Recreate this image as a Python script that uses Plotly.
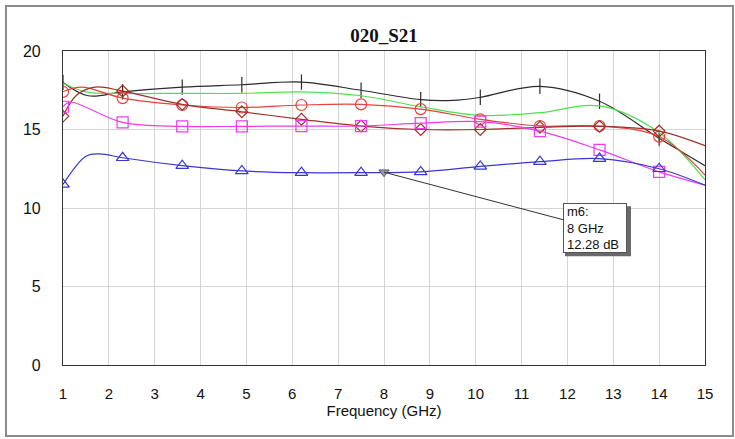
import plotly.graph_objects as go

# ---- data ----
marker_freqs = [1, 2.3, 3.6, 4.9, 6.2, 7.5, 8.8, 10.1, 11.4, 12.7, 14.0]

black_x = [1, 1.55, 2.3, 3.6, 4.9, 6.2, 7.5, 8.8, 9.5, 10.1, 11.4, 12.7, 14.0, 15]
black_y = [18.0, 17.15, 17.4, 17.7, 17.85, 18.02, 17.5, 16.9, 16.85, 17.05, 17.75, 16.8, 14.45, 12.7]

green_x = [1, 1.5, 2.3, 3.6, 4.9, 6.2, 7.5, 8.8, 10.1, 11.4, 12.7, 14.0, 15]
green_y = [17.95, 17.4, 17.3, 17.3, 17.3, 17.4, 17.15, 16.45, 15.9, 16.07, 16.5, 14.8, 11.8]

red_x = [1, 1.4, 2.3, 3.6, 4.9, 6.2, 7.5, 8.8, 10.1, 11.4, 12.7, 14.0, 15]
red_y = [17.4, 17.7, 17.0, 16.56, 16.4, 16.56, 16.6, 16.3, 15.65, 15.22, 15.22, 14.55, 12.1]

brown_x = [1, 1.3, 1.7, 2.3, 3.6, 4.9, 6.2, 7.5, 8.8, 10.1, 11.4, 12.7, 14.0, 15]
brown_y = [15.85, 17.2, 17.7, 17.45, 16.6, 16.13, 15.65, 15.22, 15.0, 15.0, 15.14, 15.2, 14.9, 13.97]

magenta_x = [1, 1.15, 2.3, 3.6, 4.9, 6.2, 7.5, 8.8, 10.1, 11.4, 12.7, 14.0, 15]
magenta_y = [16.45, 16.75, 15.45, 15.2, 15.2, 15.22, 15.22, 15.4, 15.5, 14.9, 13.7, 12.3, 11.46]

blue_x = [1, 1.5, 1.8, 2.3, 3.6, 4.9, 6.2, 7.5, 8.8, 10.1, 11.4, 12.7, 14.0, 15]
blue_y = [11.5, 13.3, 13.45, 13.2, 12.7, 12.36, 12.25, 12.25, 12.3, 12.65, 12.95, 13.15, 12.5, 11.45]

m6_freq = 8
m6_val = 12.28
m6_text = "m6:<br>8 GHz<br>12.28 dB"

title_text = "<b>020_S21</b>"
x_title = "Frequency (GHz)"
x_ticks = list(range(1, 16))
y_ticks = [0, 5, 10, 15, 20]

series = [
    (black_x, black_y, "#2b2b2b", "line-ns-open", 11),
    (green_x, green_y, "#4fe04f", None, 0),
    (red_x, red_y, "#e8403a", "circle-open", 11),
    (brown_x, brown_y, "#a0302a", "diamond-open", 9),
    (magenta_x, magenta_y, "#ee3cee", "square-open", 11),
    (blue_x, blue_y, "#3838d0", "triangle-up-open", 11),
]

fig = go.Figure()
for xs, ys, col, sym, sz in series:
    fig.add_trace(go.Scatter(x=xs, y=ys, mode="lines",
                             line=dict(color=col, width=1.2, shape="spline", smoothing=1.0),
                             showlegend=False, hoverinfo="skip"))
    if sym:
        mx = [x for x in xs if x in marker_freqs]
        my = [y for x, y in zip(xs, ys) if x in marker_freqs]
        fig.add_trace(go.Scatter(x=mx, y=my, mode="markers",
                                 marker=dict(symbol=sym, size=sz, color=col,
                                             line=dict(color=col, width=1.2)),
                                 showlegend=False, hoverinfo="skip"))

fig.add_trace(go.Scatter(x=[m6_freq], y=[m6_val], mode="markers",
                         marker=dict(symbol="triangle-down", size=9, color="#9a9aa8",
                                     line=dict(color="#555566", width=1)),
                         showlegend=False, hoverinfo="skip"))

box_ax, box_ay = 211, 56
box_w, box_h = 66, 50
# shadow of the marker box (pixel-sized shape anchored on the marker point)
fig.add_shape(type="rect", xref="x", yref="y",
              xsizemode="pixel", ysizemode="pixel",
              xanchor=m6_freq, yanchor=m6_val,
              x0=box_ax - box_w / 2 + 3, x1=box_ax + box_w / 2 + 3,
              y0=-box_ay - box_h / 2 - 3, y1=-box_ay + box_h / 2 - 3,
              fillcolor="#6a6a6a", line=dict(width=0), layer="above")
fig.add_annotation(x=m6_freq, y=m6_val, text=m6_text, showarrow=True,
                   ax=box_ax, ay=box_ay, arrowhead=0, arrowwidth=1, arrowcolor="#333333",
                   align="left", width=box_w - 10, height=box_h - 8,
                   font=dict(family="Liberation Sans, Arial", size=13, color="#111111"),
                   bgcolor="white", bordercolor="#555555", borderwidth=1, borderpad=3)

# outer frame of the picture
fig.add_shape(type="rect", xref="paper", yref="paper",
              x0=-0.0888, x1=1.0436, y0=-0.2261, y1=1.1433,
              line=dict(color="#8c8c8c", width=2), layer="below")

axis_common = dict(showline=True, linecolor="#333333", linewidth=1.2, mirror=True,
                   showgrid=True, gridcolor="#d4d4d4", gridwidth=1, zeroline=False,
                   ticks="")

fig.update_xaxes(range=[1, 15], tickvals=x_ticks, ticklabelstandoff=15,
                 tickfont=dict(family="Liberation Sans, Arial", size=15, color="#111111"),
                 title=dict(text=x_title, standoff=4,
                            font=dict(family="Liberation Sans, Arial", size=15, color="#111111")),
                 **axis_common)
fig.update_yaxes(range=[0, 20], tickvals=y_ticks, ticklabelstandoff=18,
                 tickfont=dict(family="Liberation Sans, Arial", size=16, color="#111111"),
                 **axis_common)

fig.update_layout(
    width=735, height=439,
    margin=dict(l=63, r=30, t=51, b=74),
    paper_bgcolor="white", plot_bgcolor="white",
    title=dict(text=title_text, x=0.5, xref="paper", y=1 - 35 / 439, yref="container",
               yanchor="middle", xanchor="center",
               font=dict(family="Liberation Serif, Times New Roman", size=19, color="#111111")),
)

fig.write_html("out.html")
